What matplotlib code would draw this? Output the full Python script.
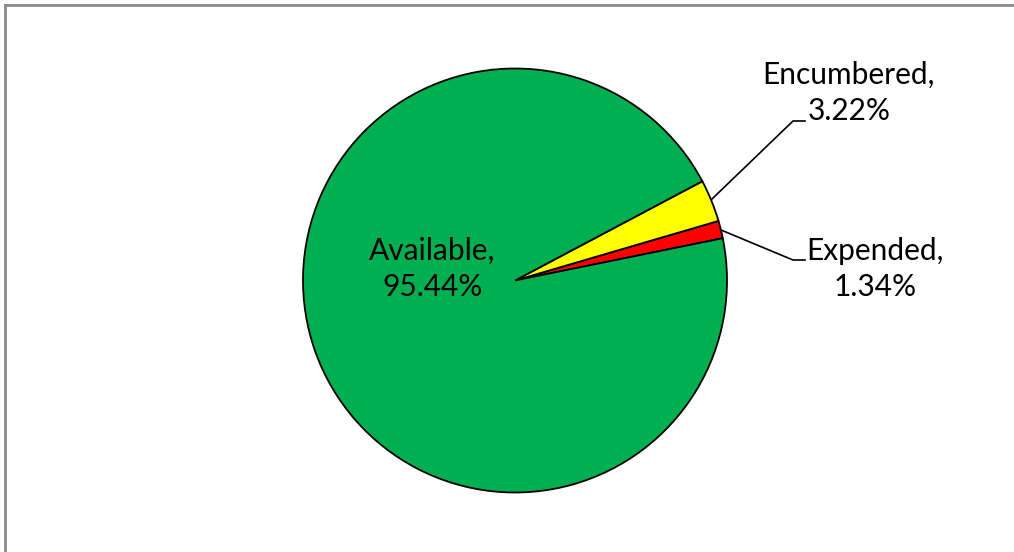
import matplotlib.pyplot as plt
from matplotlib.lines import Line2D

# --- Datos ---
labels = ['Expended', 'Encumbered', 'Available']
values = [1.34, 3.22, 95.44]
colors = ['#FF0000', '#FFFF00', '#00B050']

# posiciones de las etiquetas (en unidades del radio)
label_pos = [(1.70, 0.054), (1.575, 0.884), (-0.39, 0.054)]

plt.rcParams['font.family'] = ['Lato', 'DejaVu Sans']

fig = plt.figure(figsize=(10.14, 5.52), dpi=100)
ax = fig.add_axes([0, 0, 1, 1])

# centro del pie en (515, 280.5) px, radio 212 px
cx, cy, r = 515, 280.5, 212
W, H = 1014, 552

ax.pie(values, colors=colors, startangle=11.5, counterclock=True,
       radius=1.0, center=(0, 0), frame=True,
       wedgeprops=dict(edgecolor='black', linewidth=1.3))
ax.set_xlim(-cx / r, (W - cx) / r)
ax.set_ylim(-(H - cy) / r, cy / r)
ax.set_aspect('equal')
ax.axis('off')

def px(x, y):
    return ((x - cx) / r, (cy - y) / r)

for lab, val, (lx, ly) in zip(labels, values, label_pos):
    ax.text(lx, ly, f'{lab},\n{val:.2f}%', ha='center', va='center',
            fontsize=21.5, linespacing=1.35, color='black')

# lineas guia
for pts in [[(712, 199), (793, 121), (805, 121)],
            [(721, 230), (793, 260), (805, 260)]]:
    xs, ys = zip(*[px(*p) for p in pts])
    ax.plot(xs, ys, color='black', linewidth=1.2)

# marco gris del grafico
fig.add_artist(Line2D([5 / W, 5 / W], [0, 1 - 5 / H], color='#8a8a8a', linewidth=2,
                      transform=fig.transFigure))
fig.add_artist(Line2D([5 / W, 1], [1 - 5 / H, 1 - 5 / H], color='#8a8a8a', linewidth=2,
                      transform=fig.transFigure))

fig.savefig('out.png', dpi=100)
